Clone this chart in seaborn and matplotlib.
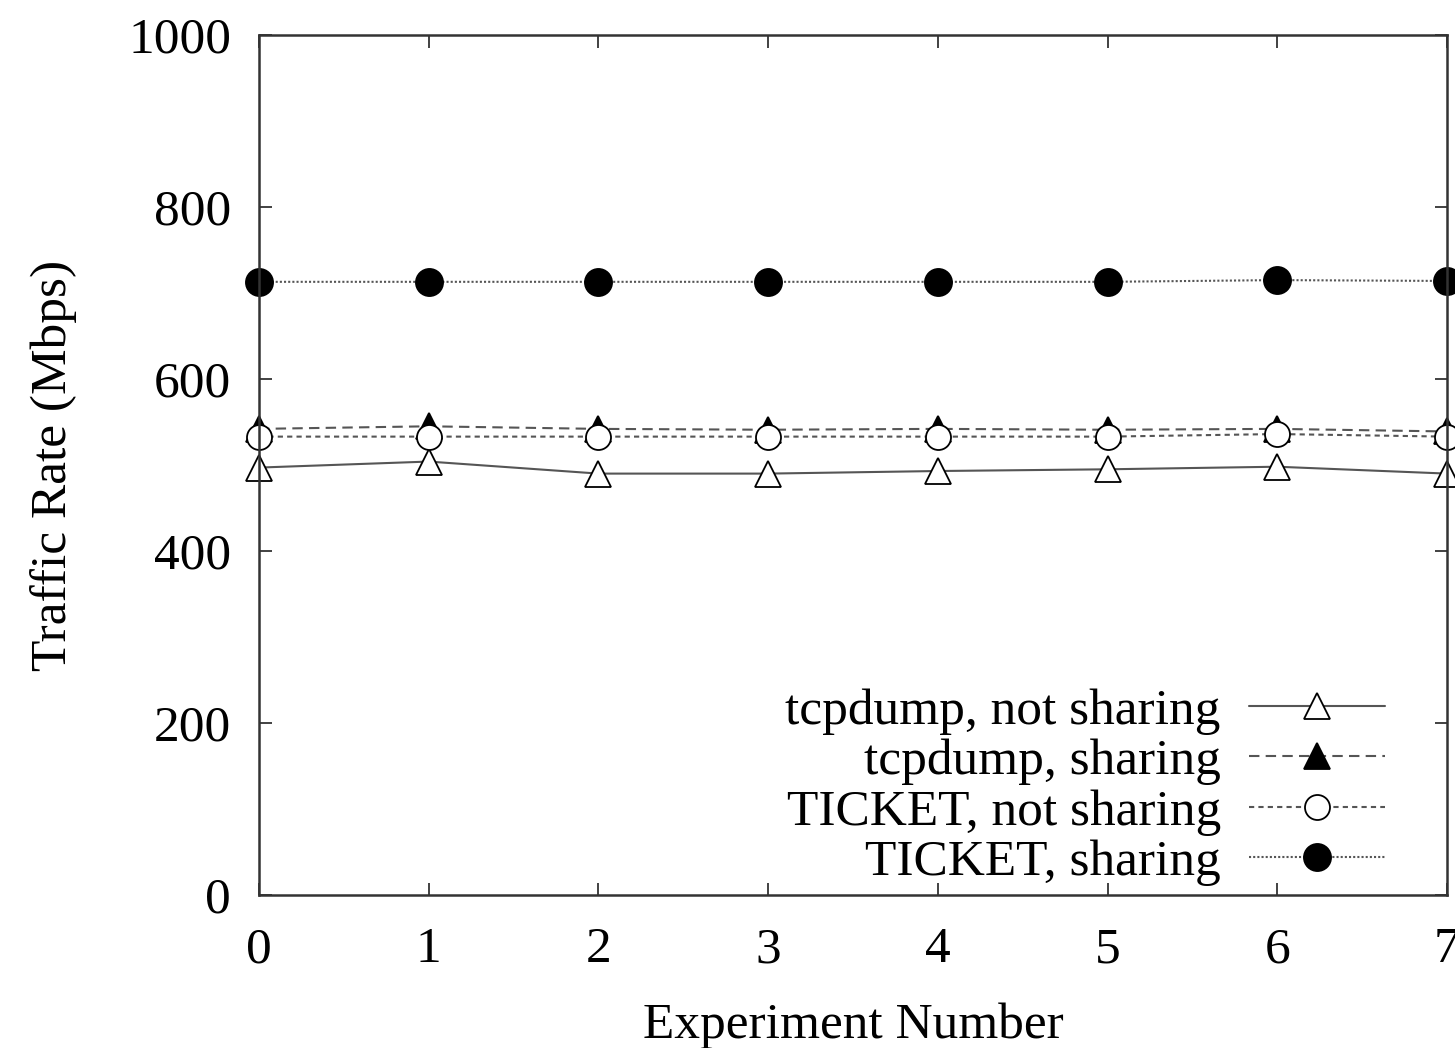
import matplotlib
matplotlib.use("Agg")
import matplotlib.pyplot as plt
import seaborn as sns
import pandas as pd

experiments = [0, 1, 2, 3, 4, 5, 6, 7]
tcpdump_not_sharing = [497, 504, 490, 490, 493, 495, 498, 490]
tcpdump_sharing = [542, 545, 542, 541, 542, 541, 542, 539]
ticket_not_sharing = [533, 533, 533, 533, 533, 533, 536, 533]
ticket_sharing = [713, 713, 713, 713, 713, 713, 715, 714]

series_labels = ["tcpdump, not sharing", "tcpdump, sharing",
                 "TICKET, not sharing", "TICKET, sharing"]
x_ticks = [0, 1, 2, 3, 4, 5, 6, 7]
y_ticks = [0, 200, 400, 600, 800, 1000]

sns.set_style("ticks")
plt.rcParams['font.family'] = ['Liberation Serif', 'DejaVu Serif']
plt.rcParams['text.color'] = 'black'
plt.rcParams['axes.labelcolor'] = 'black'
plt.rcParams['xtick.labelcolor'] = 'black'
plt.rcParams['ytick.labelcolor'] = 'black'

fig = plt.figure(figsize=(14.55, 10.48), dpi=100)
ax = fig.add_axes([259/1455, 1 - 895/1048, (1447-259)/1455, (895-35)/1048])

styles = [
    dict(linestyle='-', marker='^', markerfacecolor='white', markeredgecolor='black', markersize=19),
    dict(linestyle=(0, (5, 3)), marker='^', markerfacecolor='black', markeredgecolor='black', markersize=19),
    dict(linestyle=(0, (2.5, 2)), marker='o', markerfacecolor='white', markeredgecolor='black', markersize=18),
    dict(linestyle=(0, (1, 1)), marker='o', markerfacecolor='black', markeredgecolor='black', markersize=19.5),
]
data = [tcpdump_not_sharing, tcpdump_sharing, ticket_not_sharing, ticket_sharing]

for vals, lab, st in zip(data, series_labels, styles):
    df = pd.DataFrame({"x": experiments, "y": vals})
    sns.lineplot(data=df, x="x", y="y", ax=ax, label=lab, color='#555555',
                 linewidth=1.5, markeredgewidth=1.3, clip_on=False, **st)

ax.set_xlim(0, 7)
ax.set_ylim(0, 1000)
ax.set_xticks(x_ticks)
ax.set_yticks(y_ticks)
ax.tick_params(direction='in', length=9, width=1.3, labelsize=37, top=True, right=True,
               color='#333333', pad=20)
ax.tick_params(axis='x', pad=23)
for s in ax.spines.values():
    s.set_linewidth(1.8)
    s.set_color('#333333')
ax.set_xlabel("Experiment Number", fontsize=37, labelpad=21)
ax.set_ylabel("Traffic Rate (Mbps)", fontsize=37, labelpad=37)

leg = ax.legend(loc='lower right', bbox_to_anchor=(0.948, 0.01), frameon=False,
                markerfirst=False, fontsize=37, handlelength=2.65, handletextpad=0.55,
                labelspacing=0.07, borderpad=0, borderaxespad=0)

fig.savefig("out.png", dpi=100)
